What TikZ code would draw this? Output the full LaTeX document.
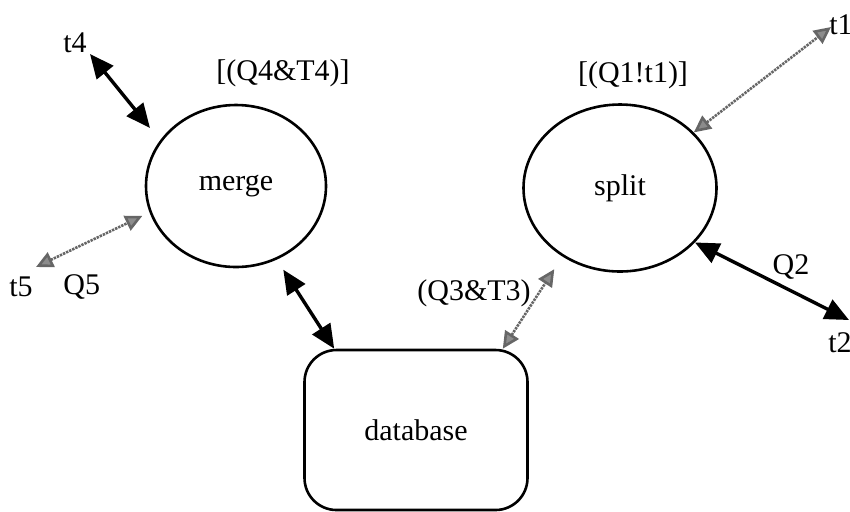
\documentclass[tikz,border=0pt]{standalone}
\usepackage{fontspec}
\setmainfont{Liberation Serif}
\usetikzlibrary{shapes.geometric, arrows.meta, positioning, calc}

\begin{document}
\begin{tikzpicture}[
    x=0.5pt, y=-0.5pt,
    proc/.style={ellipse, draw, line width=1.3pt, inner sep=0pt, font=\fontsize{15}{17}\selectfont},
    store/.style={rectangle, rounded corners=16pt, draw, line width=1.3pt, minimum width=111.5pt, minimum height=80pt, font=\fontsize{15}{17}\selectfont},
    lbl/.style={inner sep=0pt, font=\fontsize{15}{17}\selectfont},
    solidarrow/.style={{Triangle[length=12pt,width=10.5pt]}-{Triangle[length=12pt,width=10.5pt]}, line width=1.7pt},
    hatcharrow/.style={{Triangle[length=8.5pt,width=8pt,fill=black!45]}-{Triangle[length=8.5pt,width=8pt,fill=black!45]}, line width=1.3pt, draw=black!60, dash pattern=on 1.2pt off 0.5pt}
]
\useasboundingbox (0,0) rectangle (850,511);

% processes and store
\node[proc, minimum width=90pt, minimum height=81pt] (merge) at (236,186) {merge};
\node[proc, minimum width=96.5pt, minimum height=83.5pt] (split) at (620,188) {split};
\node[store] (database) at (416,430) {database};

% labels
\node[lbl] (t4) at (75,43) {t4};
\node[lbl] (q4) at (283,73) {[(Q4\&T4)]};
\node[lbl] (q1) at (633,75) {[(Q1!t1)]};
\node[lbl] (t1) at (841,25) {t1};
\node[lbl] (t5) at (21,287) {t5};
\node[lbl, right=15pt of t5] (q5) {Q5};
\node[lbl] (q2) at (791,267) {Q2};
\node[lbl] (t2) at (840,343) {t2};
\node[lbl] (q3) at (474,293) {(Q3\&T3)};

% free ends
\coordinate (t4end) at (90,54);
\coordinate (t5end) at (36,267);
\coordinate (t1end) at (831,27);
\coordinate (t2end) at (849,320);

% arrows
\draw[solidarrow, shorten >=8pt] (t4end) -- (merge.149);
\draw[hatcharrow, shorten >=4pt] (t5end) -- (merge.197);
\draw[hatcharrow] (split.37) -- (t1end);
\draw[solidarrow] (split.-36) -- (t2end);
\draw[solidarrow, shorten >=6pt] ([xshift=15.5pt]database.north west) -- (merge.-61);
\draw[hatcharrow, shorten >=7.5pt] ([xshift=-13pt]database.north east) -- (split.230);

\end{tikzpicture}
\end{document}
